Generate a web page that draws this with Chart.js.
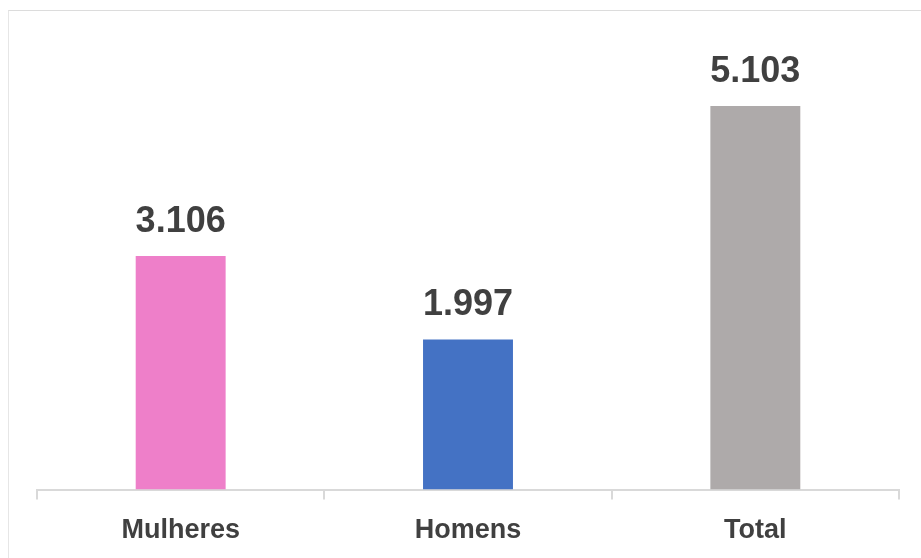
<!DOCTYPE html>
<html>
<head>
<meta charset="utf-8">
<script src="https://cdn.jsdelivr.net/npm/chart.js@4/dist/chart.umd.min.js"></script>
<style>
  html, body { margin: 0; padding: 0; background: #fff; overflow: hidden; }
  #frame { position: absolute; left: 8px; top: 10px; width: 1000px; height: 1000px;
           border-left: 1px solid #e6e6e6; border-top: 1px solid #dcdcdc; }
  #wrap { position: absolute; left: 0; top: 0; width: 921px; height: 558px; }
</style>
</head>
<body>
<div id="frame"></div>
<div id="wrap"><canvas id="chart"></canvas></div>
<script>
// Chart data
const categories = ['Mulheres', 'Homens', 'Total'];
const values = [3106, 1997, 5103];
const barColors = ['#EE7FC9', '#4472C4', '#AEAAAA'];

// Format numbers the pt-BR way (dot as thousands separator)
function formatNumber(v) {
  return String(v).replace(/\B(?=(\d{3})+(?!\d))/g, '.');
}

// Draw value labels above each bar
const valueLabels = {
  id: 'valueLabels',
  afterDatasetsDraw(chart) {
    const ctx = chart.ctx;
    const meta = chart.getDatasetMeta(0);
    ctx.save();
    ctx.font = 'bold 36px "Liberation Sans", Arial, sans-serif';
    ctx.fillStyle = '#404040';
    ctx.textAlign = 'center';
    ctx.textBaseline = 'alphabetic';
    meta.data.forEach((bar, i) => {
      ctx.fillText(formatNumber(values[i]), bar.x, bar.y - 24);
    });
    ctx.restore();
  }
};

const ctx = document.getElementById('chart').getContext('2d');
new Chart(ctx, {
  type: 'bar',
  data: {
    labels: categories,
    datasets: [{
      data: values,
      backgroundColor: barColors,
      borderWidth: 0,
      categoryPercentage: 1,
      barPercentage: 0.313
    }]
  },
  options: {
    responsive: true,
    maintainAspectRatio: false,
    animation: false,
    layout: {
      padding: { top: 38.5, right: 22, bottom: 0, left: 37 }
    },
    scales: {
      x: {
        grid: {
          display: true,
          drawOnChartArea: false,
          drawTicks: true,
          tickLength: 10,
          lineWidth: 2,
          color: '#d9d9d9',
          offset: true
        },
        border: { display: true, color: '#d9d9d9', width: 2 },
        ticks: {
          color: '#404040',
          padding: 15,
          font: { family: '"Liberation Sans", Arial, sans-serif', size: 27, weight: 'bold' }
        },
        afterFit(axis) { axis.height = 68.5; }
      },
      y: {
        display: false,
        min: 0,
        max: 6000
      }
    },
    plugins: {
      legend: { display: false },
      tooltip: { enabled: false }
    }
  },
  plugins: [valueLabels]
});
</script>
</body>
</html>
